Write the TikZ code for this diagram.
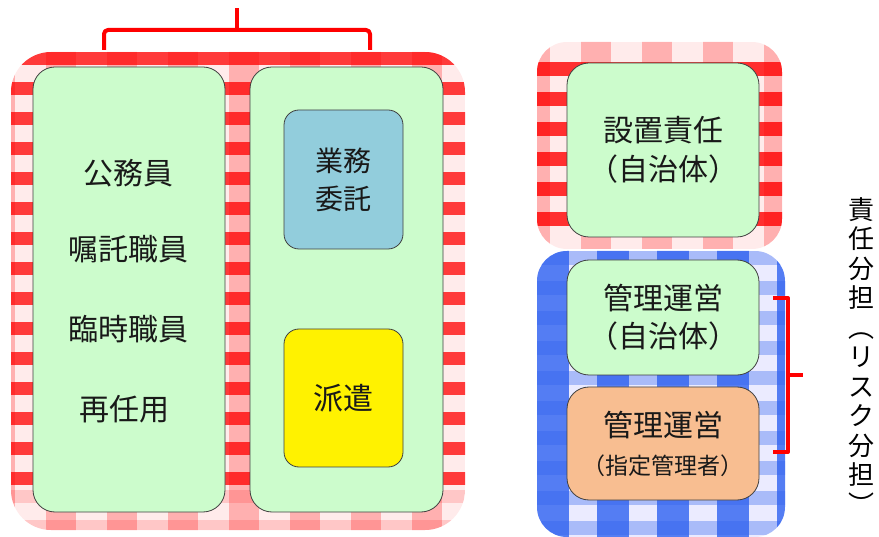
\documentclass[tikz,border=0pt]{standalone}
\usepackage{fontspec}
\setmainfont{Noto Sans CJK JP}
\definecolor{bgreen}{HTML}{CCFCCC}
\definecolor{bblue}{HTML}{92CDDC}
\definecolor{borange}{HTML}{F8BE91}
\definecolor{gred}{HTML}{FF0000}
\definecolor{gblue}{HTML}{2F62F0}
\begin{document}
\begin{tikzpicture}[x=1pt,y=-1pt,
  box/.style={draw=black!75, line width=0.8pt, rounded corners=22pt, fill=bgreen, inner sep=0pt},
  smallbox/.style={draw=black!75, line width=0.8pt, rounded corners=15pt, inner sep=0pt},
  lbl/.style={font=\fontsize{30}{36}\selectfont, align=center, text=black!90},
  brk/.style={draw=red, line width=4pt, line join=round}]
\useasboundingbox (0,0) rectangle (879,537);
% ---- red gingham, left
\begin{scope}
  \clip[rounded corners=40pt] (11,52) rectangle (465,530);
  \fill[red!8] (11,52) rectangle (465,530);
  \foreach \yy in {52,82,...,480} \fill[gred, opacity=.75] (0,\yy) rectangle (480,\yy+13);
  \foreach \yy in {490,520} \fill[gred, opacity=.15] (0,\yy) rectangle (480,\yy+13);
  \foreach \xx in {-15,46,...,470} \fill[gred, opacity=.25] (\xx,40) rectangle (\xx+30,540);
\end{scope}
% ---- red gingham, right top
\begin{scope}
  \clip[rounded corners=30pt] (537,42) rectangle (782,249);
  \fill[red!8] (537,42) rectangle (782,249);
  \foreach \yy in {62,92,...,215} \fill[gred, opacity=.8] (530,\yy) rectangle (790,\yy+14);
  \foreach \xx in {520,581,...,790} \fill[gred, opacity=.25] (\xx,40) rectangle (\xx+30,250);
\end{scope}
% ---- blue gingham, right bottom
\begin{scope}
  \clip[rounded corners=30pt] (537,251) rectangle (785,537);
  \fill[blue!8] (537,251) rectangle (785,537);
  \foreach \yy in {251,281,...,540} \fill[gblue, opacity=.35] (530,\yy) rectangle (790,\yy+14);
  \foreach \xx in {537,597,...,790} \fill[gblue, opacity=.8] (\xx,250) rectangle (\xx+32,540);
\end{scope}
% ---- boxes
\node[box, minimum width=192pt, minimum height=445pt] (staff) at (129,289.5) {};
\node[lbl] (t1) at (128,173) {公務員};
\node[lbl] (t2) at (128,249) {嘱託職員};
\node[lbl] (t3) at (128,329) {臨時職員};
\node[lbl] (t4) at (124,409) {再任用};
\node[box, minimum width=193pt, minimum height=445pt] (outs) at (346.5,289.5) {};
\node[smallbox, fill=bblue, minimum width=119pt, minimum height=139pt, lbl, font=\fontsize{28}{38}\selectfont] (itaku) at (343.5,179.5) {業務\\委託};
\node[smallbox, fill=yellow, minimum width=119pt, minimum height=138pt, lbl] (haken) at (343.5,398) {派遣};
\node[box, minimum width=192pt, minimum height=174pt, lbl, font=\fontsize{30}{39}\selectfont] (setchi) at (663,150) {設置責任\\（自治体）};
\node[box, minimum width=192pt, minimum height=115pt, lbl, font=\fontsize{30}{38}\selectfont] (kanri1) at (663,317.5) {管理運営\\（自治体）};
\node[box, fill=borange, minimum width=192pt, minimum height=113pt, lbl, font=\fontsize{30}{38}\selectfont] (kanri2) at (663,443.5) {管理運営\\{\fontsize{23}{24}\selectfont（指定管理者）}};
% ---- vertical label
\node[font=\fontsize{26}{29.5}\selectfont, align=center, inner sep=0pt] (vlabel) at (861,356) {責\\任\\分\\担\\︵\\リ\\ス\\ク\\分\\担\\︶};
% ---- brackets
\coordinate (tl) at (104,50);
\coordinate (tr) at (370,50);
\coordinate (ttop) at (237,8);
\draw[brk, rounded corners=4pt] (tl) -- (104,30) -- (370,30) -- (tr);
\draw[brk] (237,31) -- (ttop);
\coordinate (rt) at (773,298);
\coordinate (rb) at (773,452);
\coordinate (rm) at (803,375);
\draw[brk] (rt) -- (788,298) -- (788,452) -- (rb);
\draw[brk] (788,375) -- (rm);
\end{tikzpicture}
\end{document}
